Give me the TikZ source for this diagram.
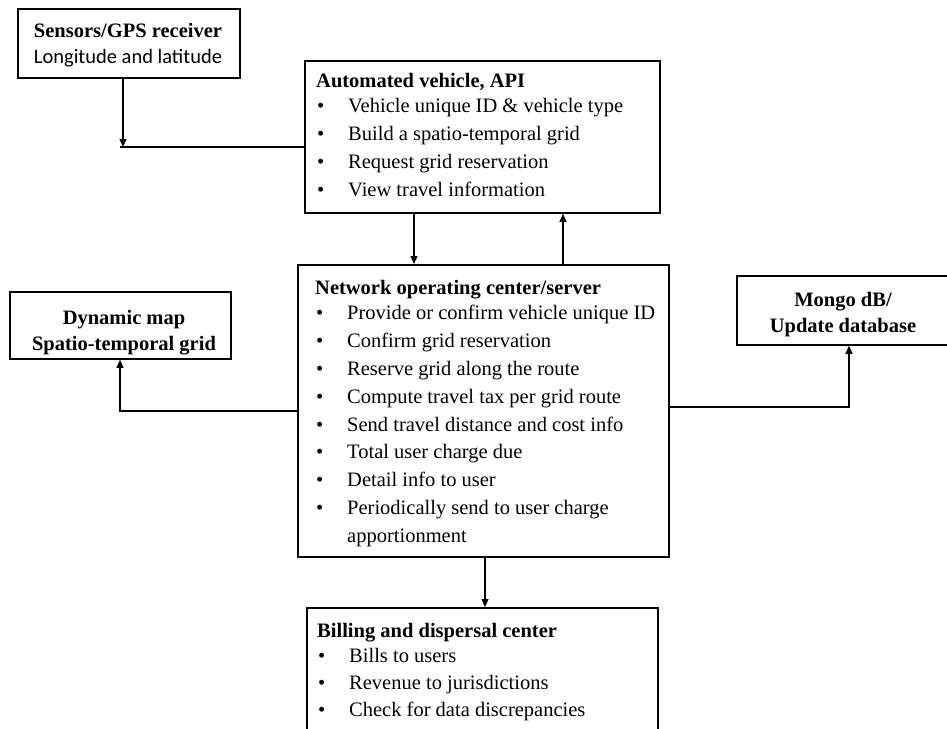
\documentclass[tikz,border=0pt]{standalone}
\usepackage{fontspec}
\setmainfont{Liberation Serif}
\newfontfamily\calibri{Carlito}
\usetikzlibrary{arrows.meta}
% one bullet line of a list: bullet, then the item text
\newcommand\bitem[1]{\par\makebox[32pt][l]{\hspace{1pt}\textbullet}#1}
\newcommand\listfont{\fontsize{20.5}{27.8}\selectfont}
\newcommand\labelfont{\fontsize{20.5}{26}\selectfont}
\begin{document}
\begin{tikzpicture}[x=1pt,y=-1pt,
  box/.style={draw, line width=1.8pt, inner sep=0pt, anchor=north west},
  txt/.style={inner sep=0pt, anchor=base west},
  ctxt/.style={inner sep=0pt, anchor=base},
  conn/.style={line width=1.2pt},
  arr/.style={conn, -{Triangle[length=8pt,width=7pt]}}]
\useasboundingbox[fill=white] (0,0) rectangle (947,728);

% boxes
\node[box, minimum width=222pt, minimum height=69pt]  (sens)  at (17,8)   {};
\node[box, minimum width=355pt, minimum height=152pt] (auto)  at (304,60) {};
\node[box, minimum width=371pt, minimum height=292pt] (net)   at (297,264) {};
\node[box, minimum width=221pt, minimum height=67pt]  (dyn)   at (9,291)  {};
\node[box, minimum width=216pt, minimum height=69pt]  (mongo) at (736,275) {};
\node[box, minimum width=351pt, minimum height=140pt] (bill)  at (306,607) {};

% box texts
\node[ctxt] (sens-t) at (128,37) {\parbox[t]{220pt}{\centering\labelfont
  \textbf{Sensors/GPS receiver}\\ {\calibri Longitude and latitude}}};
\node[ctxt] (dyn-t) at (124,324) {\parbox[t]{220pt}{\centering\labelfont\bfseries
  Dynamic map\\ Spatio-temporal grid}};
\node[ctxt] (mongo-t) at (843,306) {\parbox[t]{210pt}{\centering\labelfont\bfseries
  Mongo dB/\\ Update database}};

\node[txt] (auto-t) at (316,87) {\parbox[t]{340pt}{\listfont
  {\bfseries Automated vehicle, API\par}\vspace{-2pt}
  \bitem{Vehicle unique ID \& vehicle type}
  \bitem{Build a spatio-temporal grid}
  \bitem{Request grid reservation}
  \bitem{View travel information}}};

\node[txt] (net-t) at (315,294) {\parbox[t]{350pt}{\listfont
  {\bfseries Network operating center/server\par}\vspace{-2pt}
  \bitem{Provide or confirm vehicle unique ID}
  \bitem{Confirm grid reservation}
  \bitem{Reserve grid along the route}
  \bitem{Compute travel tax per grid route}
  \bitem{Send travel distance and cost info}
  \bitem{Total user charge due}
  \bitem{Detail info to user}
  \bitem{Periodically send to user charge}
  \par\hspace*{32pt}apportionment}};

\node[txt] (bill-t) at (317,637) {\parbox[t]{330pt}{\fontsize{20.5}{27.3}\selectfont
  {\bfseries Billing and dispersal center\par}\vspace{-2pt}
  \bitem{Bills to users}
  \bitem{Revenue to jurisdictions}
  \bitem{Check for data discrepancies}}};

% junction points of the connectors
\coordinate (j1)  at (123,147);
\coordinate (j1s) at (120,147);
\coordinate (xd)  at (414,0);
\coordinate (xu)  at (563,0);
\coordinate (jl)  at (120,411);
\coordinate (jr)  at (849,407);
\coordinate (xb)  at (485,0);

% connectors
\draw[arr]  (sens.south -| j1) -- (j1);
\draw[conn] (j1s) -- (auto.west |- j1s);
\draw[arr]  (auto.south -| xd) -- (net.north -| xd);
\draw[arr]  (net.north -| xu) -- (auto.south -| xu);
\draw[arr]  (net.west |- jl) -- (jl) -- (dyn.south -| jl);
\draw[arr]  (net.east |- jr) -- (jr) -- (mongo.south -| jr);
\draw[arr]  (net.south -| xb) -- (bill.north -| xb);
\end{tikzpicture}
\end{document}
